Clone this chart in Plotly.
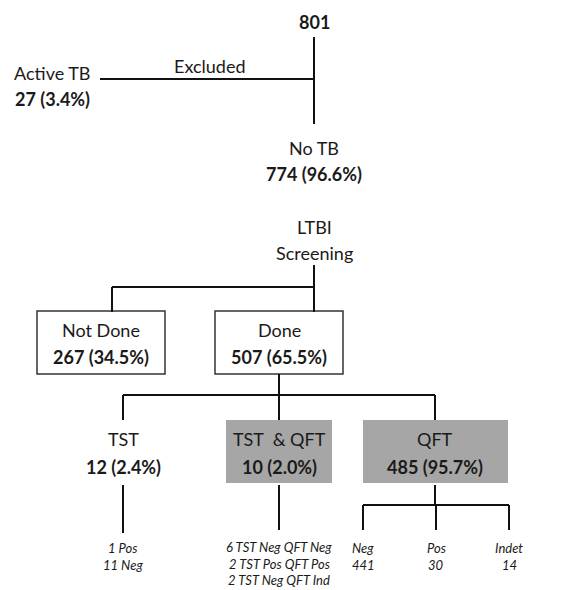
import plotly.graph_objects as go

# ---- data ----
total = 801
node_names = ["Active TB", "No TB", "Not Done", "Done", "TST", "TST  & QFT", "QFT"]
node_counts = [27, 774, 267, 507, 12, 10, 485]
node_pcts = [3.4, 96.6, 34.5, 65.5, 2.4, 2.0, 95.7]
tst_results = ["1 Pos", "11 Neg"]
both_results = ["6 TST Neg QFT Neg", "2 TST Pos QFT Pos", "2 TST Neg QFT Ind"]
qft_cats = ["Neg", "Pos", "Indet"]
qft_counts = [441, 30, 14]

# ---- layout helpers (pixel coordinates of the 587x590 window) ----
W, H = 587, 590
OFF = 8  # default page body margin
FONT = "Lato, 'Open Sans', sans-serif"
TXT = "#1a1a1a"
annotations = []
shapes = []

def text(x, y, s, size=18, bold=False, italic=False):
    if bold:
        s = "<b>" + s + "</b>"
    if italic:
        s = "<i>" + s + "</i>"
    annotations.append(dict(x=x, y=y, xref="x", yref="y", text=s, showarrow=False,
                            font=dict(family=FONT, size=size, color=TXT),
                            xanchor="center", yanchor="middle"))

def line(x0, y0, x1, y1):
    shapes.append(dict(type="line", x0=x0, y0=y0, x1=x1, y1=y1, xref="x", yref="y",
                       line=dict(color="#111111", width=2)))

def box(x0, y0, x1, y1, fill=None):
    if fill:
        shapes.append(dict(type="rect", x0=x0, y0=y0, x1=x1, y1=y1, xref="x", yref="y",
                           fillcolor=fill, line=dict(width=0), layer="below"))
    else:
        shapes.append(dict(type="rect", x0=x0, y0=y0, x1=x1, y1=y1, xref="x", yref="y",
                           fillcolor="white", line=dict(color="#333333", width=1.5), layer="below"))

def count_str(i):
    return f"{node_counts[i]} ({node_pcts[i]:.1f}%)"

# top
text(314, 22, str(total), bold=True)
line(314, 37, 314, 124)
line(100, 79, 314, 79)
text(210, 66, "Excluded")
text(52, 73, node_names[0])
text(52, 99, count_str(0), bold=True)

text(314, 148, node_names[1])
text(314, 174, count_str(1), bold=True)
text(314, 227, "LTBI")
text(314, 253, "Screening")

line(314, 265, 314, 312)
line(112, 287, 314, 287)
line(112, 287, 112, 312)

# Not done / Done boxes
box(37, 311, 165, 374)
text(101, 330, node_names[2])
text(101, 357, count_str(2), bold=True)
box(215, 311, 343, 374)
text(279, 330, node_names[3])
text(279, 357, count_str(3), bold=True)

line(279, 374, 279, 420)
line(123, 395, 435, 395)
line(123, 395, 123, 420)
line(435, 395, 435, 420)

# TST
text(123, 439, node_names[4])
text(123, 467, count_str(4), bold=True)
line(123, 485, 123, 533)
for k, s in enumerate(tst_results):
    text(123, 548 + 17 * k, s, size=13, italic=True)

# TST & QFT
box(226, 420, 332, 483, fill="#a6a6a6")
text(279, 439, node_names[5])
text(279, 467, count_str(5), bold=True)
line(279, 485, 279, 530)
for k, s in enumerate(both_results):
    text(279, 547 + 16.5 * k, s, size=13, italic=True)

# QFT
box(363, 420, 508, 483, fill="#a6a6a6")
text(435, 439, node_names[6])
text(435, 467, count_str(6), bold=True)
line(435, 485, 435, 505)
qx = [363, 436, 509]
line(qx[0], 505, qx[-1], 505)
for x, c, n in zip(qx, qft_cats, qft_counts):
    line(x, 505, x, 530)
    text(x, 548, c, size=13, italic=True)
    text(x, 565, str(n), size=13, italic=True)

fig = go.Figure()
fig.add_trace(go.Scatter(x=[OFF, W], y=[OFF, H], mode="markers", marker=dict(opacity=0),
                         hoverinfo="skip", showlegend=False))
fig.update_layout(
    width=W - OFF, height=H - OFF, margin=dict(l=0, r=0, t=0, b=0),
    paper_bgcolor="white", plot_bgcolor="white",
    xaxis=dict(range=[OFF, W], visible=False, fixedrange=True),
    yaxis=dict(range=[H, OFF], visible=False, fixedrange=True),
    shapes=shapes, annotations=annotations, showlegend=False,
)
fig.write_html("out.html", config={"displayModeBar": False})
